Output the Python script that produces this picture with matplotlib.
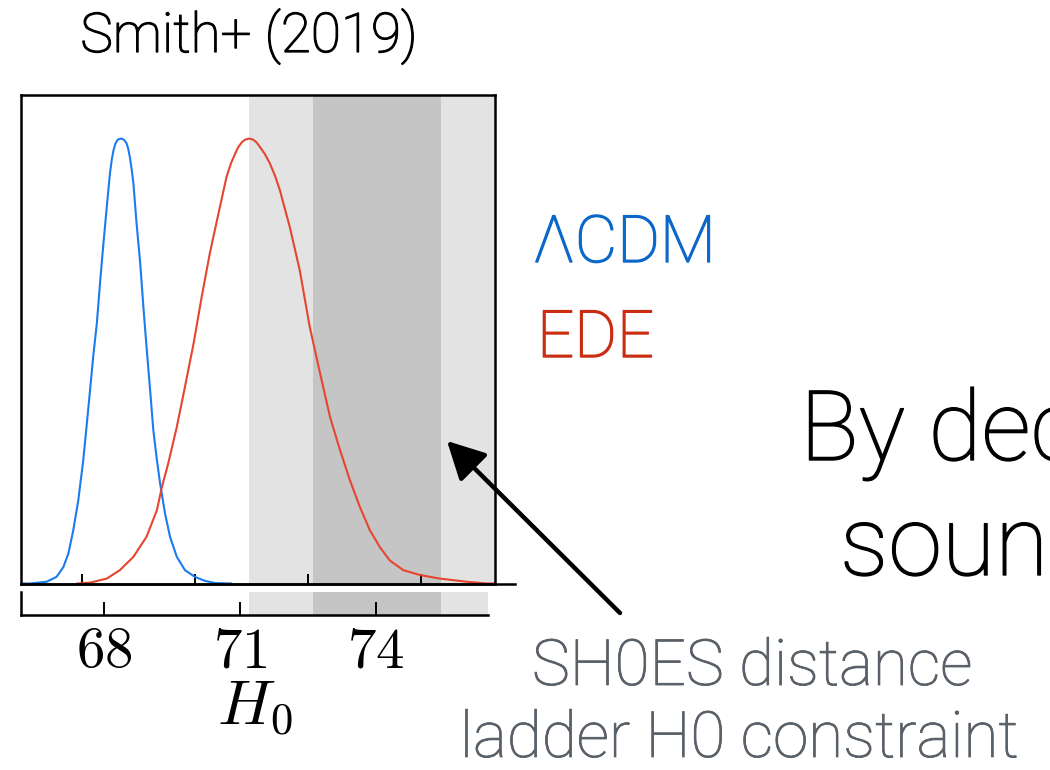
import matplotlib
matplotlib.use("Agg")
import matplotlib.pyplot as plt
import matplotlib.patheffects as pe
from matplotlib.lines import Line2D
from matplotlib.patches import FancyArrowPatch

# Normalised H0 posteriors from Smith et al. (2019)
h0_lcdm = [66.15, 66.35, 66.72, 66.94, 67.09, 67.20, 67.31, 67.42, 67.53, 67.61,
           67.68, 67.75, 67.83, 67.90, 67.97, 68.05, 68.12, 68.16, 68.20, 68.24,
           68.28, 68.32, 68.37, 68.42, 68.45, 68.49, 68.525, 68.56, 68.60, 68.64,
           68.71, 68.79, 68.86, 68.93, 69.01, 69.08, 69.16, 69.23, 69.34, 69.45,
           69.60, 69.78, 70.00, 70.22, 70.45, 70.80]
p_lcdm = [0.0, 0.0, 0.004, 0.015, 0.037, 0.067, 0.120, 0.187, 0.277, 0.360,
          0.434, 0.510, 0.584, 0.674, 0.757, 0.846, 0.921, 0.952, 0.974, 0.988,
          0.996, 0.999, 1.0, 0.998, 0.995, 0.989, 0.977, 0.959, 0.932, 0.899,
          0.809, 0.720, 0.622, 0.532, 0.434, 0.345, 0.277, 0.225, 0.157, 0.105,
          0.060, 0.030, 0.015, 0.006, 0.001, 0.0]

h0_ede = [67.40, 67.68, 68.05, 68.34, 68.64, 68.93, 69.16, 69.27, 69.41,
          69.60, 69.78, 69.97, 70.15, 70.33, 70.52, 70.70, 70.80, 70.89, 70.96,
          71.04, 71.12, 71.20, 71.28, 71.36, 71.44, 71.55, 71.66, 71.77, 71.88,
          72.10, 72.32, 72.54, 72.77, 72.99, 73.21, 73.43, 73.65, 73.87, 74.09,
          74.31, 74.61, 74.98, 75.42, 76.01, 76.46, 76.64]
p_ede = [0.0, 0.002, 0.011, 0.030, 0.060, 0.105, 0.165, 0.217, 0.270,
         0.352, 0.442, 0.539, 0.644, 0.742, 0.831, 0.914, 0.945, 0.966, 0.981,
         0.992, 0.998, 1.0, 0.998, 0.992, 0.981, 0.965, 0.944, 0.917, 0.884,
         0.801, 0.704, 0.577, 0.472, 0.374, 0.300, 0.232, 0.172, 0.120, 0.082,
         0.052, 0.030, 0.019, 0.011, 0.004, 0.0, 0.0]

# SH0ES distance-ladder measurement (Riess et al. 2019)
shoes_mean = 74.03
shoes_sigma = 1.42

inner_ticks = [67.5, 70.0, 72.5, 75.0]
label_ticks = [68, 71, 74]
tick_labels = ["68", "71", "74"]

W, H = 1050, 770
BLUE_LINE = "#1b7cf0"
RED_LINE = "#e6452f"
LIGHT = "#e3e3e3"
DARK = "#c5c5c5"
SANS = ["Roboto", "DejaVu Sans"]

plt.rcParams["mathtext.fontset"] = "cm"

fig = plt.figure(figsize=(W / 100, H / 100), dpi=100)


def box(x0, y0, x1, y1):
    """Axes rectangle from pixel edges measured from the top-left corner."""
    return [x0 / W, 1 - y1 / H, (x1 - x0) / W, (y1 - y0) / H]


def slide_text(x, y, s, size, color, ha="left", thicken=0.7):
    """Light sans text placed by pixel position of its baseline."""
    return fig.text(x / W, 1 - y / H, s, ha=ha, va="baseline", fontsize=size,
                    family=SANS, weight="light", color=color,
                    path_effects=[pe.withStroke(linewidth=thicken,
                                                foreground=color)])


# main posterior panel
ax = fig.add_axes(box(21, 95, 495, 583.5))
ax.set_xlim(66.153, 76.639)
ax.set_ylim(0, 1.098)
ax.axvspan(shoes_mean - 2 * shoes_sigma, shoes_mean + 2 * shoes_sigma,
           color=LIGHT, lw=0, zorder=0)
ax.axvspan(shoes_mean - shoes_sigma, shoes_mean + shoes_sigma,
           color=DARK, lw=0, zorder=0.5)
ax.plot(h0_lcdm, p_lcdm, color=BLUE_LINE, lw=1.5, zorder=2,
        solid_joinstyle="round")
ax.plot(h0_ede, p_ede, color=RED_LINE, lw=1.5, zorder=2,
        solid_joinstyle="round")
ax.set_yticks([])
ax.set_xticks(inner_ticks)
ax.set_xticklabels([])
ax.tick_params(axis="x", direction="in", length=7.5, width=1.4, color="k")
for s in ax.spines.values():
    s.set_linewidth(1.8)
    s.set_zorder(3)
ax.add_line(Line2D([0, 1.042], [0, 0], transform=ax.transAxes, color="k",
                   lw=1.8, clip_on=False, zorder=3))

# labelled H0 axis strip
ax2 = fig.add_axes(box(21, 591.5, 488, 614.5))
ax2.set_xlim(66.153, 76.485)
ax2.set_ylim(0, 1)
ax2.axvspan(shoes_mean - 2 * shoes_sigma, shoes_mean + 2 * shoes_sigma,
            color=LIGHT, lw=0, zorder=0)
ax2.axvspan(shoes_mean - shoes_sigma, shoes_mean + shoes_sigma,
            color=DARK, lw=0, zorder=0.5)
ax2.spines["top"].set_visible(False)
ax2.spines["right"].set_visible(False)
ax2.spines["left"].set_linewidth(1.8)
ax2.spines["bottom"].set_linewidth(1.8)
ax2.set_yticks([])
ax2.set_xticks(label_ticks, labels=[f"${t}$" for t in tick_labels])
ax2.tick_params(axis="x", direction="in", length=9.5, width=1.4,
                pad=7, labelsize=41)
ax2.set_xlabel(r"$H_0$", fontsize=46, labelpad=-2)

# slide annotations
slide_text(249, 52, "Smith+ (2019)", 39.5, "black", ha="center", thicken=0.9)
slide_text(533, 262, "ΛCDM", 47, "#0b67c9", thicken=1.0)
slide_text(537, 357, "EDE", 47, "#cb2d12", thicken=1.0)
slide_text(800, 460, "By decreasing the", 70, "black", thicken=1.0)
slide_text(840, 575, "sound horizon", 70, "black", thicken=1.0)
slide_text(752, 685, "SH0ES distance", 46, "#596068", ha="center", thicken=0.6)
slide_text(739, 757, "ladder H0 constraint", 46, "#596068", ha="center",
           thicken=0.6)

fig.add_artist(FancyArrowPatch(
    posA=(620 / W, 1 - 613 / H), posB=(447 / W, 1 - 441 / H),
    transform=fig.transFigure, arrowstyle="-|>,head_length=1.15,head_width=0.6",
    mutation_scale=20, lw=3.2, color="black", shrinkA=0, shrinkB=0))

fig.savefig("out.png", dpi=100)
